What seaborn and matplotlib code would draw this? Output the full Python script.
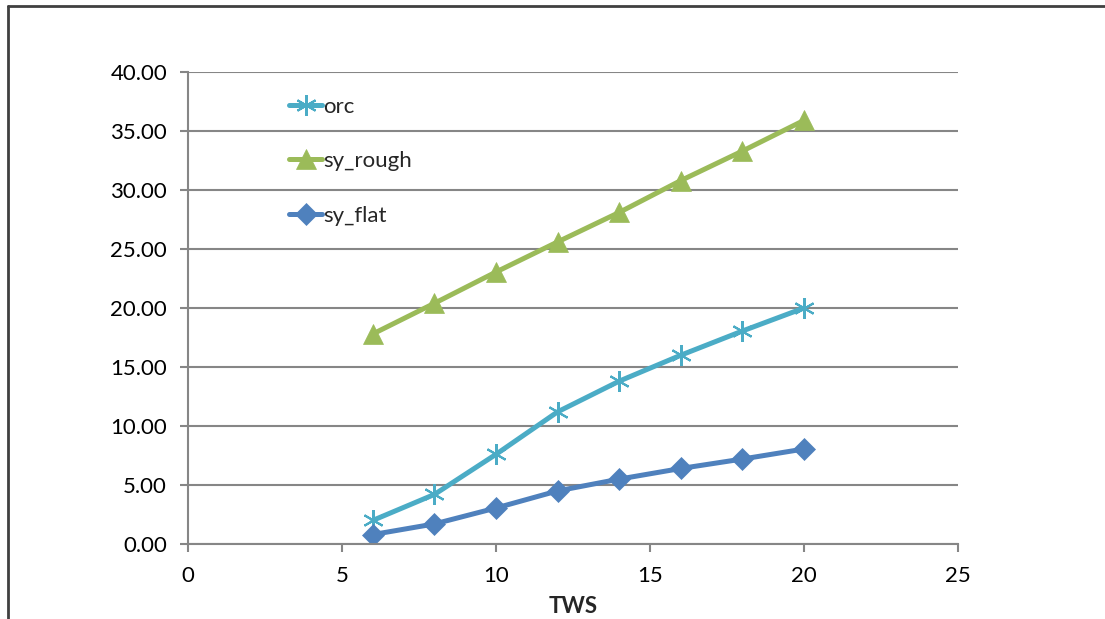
import pandas as pd
import seaborn as sns
import matplotlib.pyplot as plt
from matplotlib.lines import Line2D

tws = [6, 8, 10, 12, 14, 16, 18, 20]
orc = [2.0, 4.2, 7.6, 11.2, 13.8, 16.0, 18.05, 20.0]
sy_rough = [17.8, 20.4, 23.05, 25.6, 28.1, 30.8, 33.3, 35.9]
sy_flat = [0.8, 1.7, 3.05, 4.5, 5.5, 6.4, 7.2, 8.05]

series = ["orc", "sy_rough", "sy_flat"]
colors = {"orc": "#4BACC6", "sy_rough": "#9BBB59", "sy_flat": "#4F81BD"}
markers = {"orc": (6, 2, 0), "sy_rough": "^", "sy_flat": "D"}
msizes = {"orc": 15, "sy_rough": 14, "sy_flat": 11}

df = pd.DataFrame({"TWS": tws, "orc": orc, "sy_rough": sy_rough, "sy_flat": sy_flat})
df_long = df.melt(id_vars="TWS", var_name="series", value_name="value")

sns.set_style("white")
plt.rcParams['font.family'] = ['Lato', 'DejaVu Sans']

fig = plt.figure(figsize=(11.05, 6.19), dpi=100)
ax = fig.add_axes([188 / 1105, 1 - 544 / 619, (958 - 188) / 1105, (544 - 72) / 619])

for name in series:
    sub = df_long[df_long["series"] == name]
    sns.lineplot(data=sub, x="TWS", y="value", ax=ax, color=colors[name],
                 linewidth=3.6, marker=markers[name], markersize=msizes[name],
                 markeredgecolor=colors[name], markeredgewidth=1.5 if name == "orc" else 0.5,
                 label=name, legend=False)

ax.set_xlim(0, 25)
ax.set_ylim(0, 40)
ax.set_xticks(range(0, 26, 5))
ax.set_yticks(range(0, 41, 5))
ax.set_yticklabels([f"{v:.2f}" for v in range(0, 41, 5)])
ax.yaxis.grid(True, color="#868686", linewidth=1.5)
ax.xaxis.grid(False)
ax.set_axisbelow(True)
for s in ["top", "right"]:
    ax.spines[s].set_visible(False)
for s in ["left", "bottom"]:
    ax.spines[s].set_color("#868686")
    ax.spines[s].set_linewidth(1.5)
ax.tick_params(axis="both", which="both", direction="out", length=6, width=1.5,
               color="#868686", labelsize=16, labelcolor="black", bottom=True, left=True)
ax.tick_params(axis="x", pad=10)
ax.tick_params(axis="y", pad=9)
ax.set_xlabel("TWS", fontsize=16, fontweight="bold", labelpad=7)
ax.set_ylabel("")

handles = [Line2D([0], [0], color=colors[n], linewidth=3.6, marker=markers[n],
                  markersize=msizes[n], markeredgecolor=colors[n],
                  markeredgewidth=1.5 if n == "orc" else 0.5) for n in series]
ax.legend(handles, series, loc="upper left", bbox_to_anchor=(0.105, 0.99), frameon=False,
          fontsize=16, handlelength=1.5, handletextpad=0.05, labelspacing=1.55)

# outer chart frame (only top and left edges visible in the crop)
fig.add_artist(Line2D([8 / 1105, 1], [1 - 6 / 619, 1 - 6 / 619], color="#404040", linewidth=2,
                      transform=fig.transFigure))
fig.add_artist(Line2D([8 / 1105, 8 / 1105], [0, 1 - 6 / 619], color="#404040", linewidth=2,
                      transform=fig.transFigure))

fig.savefig("out.png", dpi=100)
